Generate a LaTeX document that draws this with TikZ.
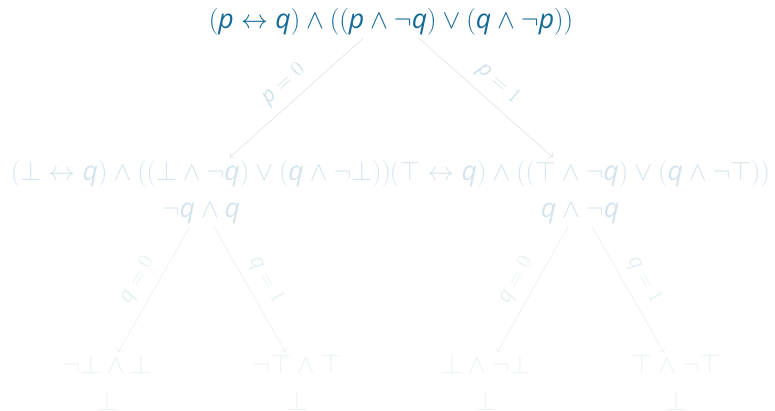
\documentclass[tikz,border=0pt]{standalone}
\usepackage{fix-cm}
\usepackage{fontspec}
\setmainfont{Open Sans}
\usetikzlibrary{arrows.meta,positioning}
\definecolor{tema}{RGB}{22,106,152}
\newcommand{\vp}{\mathit{p}}
\newcommand{\vq}{\mathit{q}}
\tikzset{
    formula/.style={
        text=tema,                          % color del tema
        font=\fontsize{19}{26}\selectfont,  % letra grande
        align=center,                       % varias lineas centradas
        inner sep=2pt
    },
    paso/.style={
        formula,
        opacity=.18                         % segundo nivel casi transparente
    },
    hoja/.style={
        formula,
        opacity=.09                         % hojas aun mas claras
    },
    rama/.style={
        ->,
        draw=black!#1                       % linea gris muy suave
    },
    etiqueta/.style={
        text=tema,
        opacity=#1,
        font=\fontsize{15}{17}\selectfont,
        sloped,
        above=3pt
    }
}
\begin{document}
\begin{tikzpicture}[x=0.025cm,y=-0.025cm]
			\useasboundingbox (0,0) rectangle (775,411);
			\node[formula] (raiz) at (391,22) {$(\vp \leftrightarrow \vq) \land ((\vp \land \neg \vq) \lor (\vq \land \neg \vp))$};
			\node[paso] (izq) at (201,192) {$(\bot \leftrightarrow \vq) \land ((\bot \land \neg \vq) \lor (\vq \land \neg \bot))$\\$\neg \vq \land \vq$};
			\node[paso] (der) at (580,192) {$(\top \leftrightarrow \vq) \land ((\top \land \neg \vq) \lor (\vq \land \neg \top))$\\$\vq \land \neg \vq$};
			\node[hoja] (h1) at (107,383) {$\neg \bot \land \bot$\\$\bot$};
			\node[hoja] (h2) at (297,383) {$\neg \top \land \top$\\$\bot$};
			\node[hoja] (h3) at (486,383) {$\bot \land \neg \bot$\\$\bot$};
			\node[hoja] (h4) at (676,383) {$\top \land \neg \top$\\$\bot$};
			\draw[rama=12] ([xshift=-0.7cm]raiz.south) -- ([xshift=0.72cm]izq.north) node[etiqueta=.2, midway] {$\vp = 0$};
			\draw[rama=12] ([xshift=0.7cm]raiz.south) -- ([xshift=-0.68cm]der.north) node[etiqueta=.2, midway] {$\vp = 1$};
			\draw[rama=7] ([xshift=-0.28cm]izq.south) -- ([xshift=0.28cm]h1.north) node[etiqueta=.1, midway] {$\vq = 0$};
			\draw[rama=7] ([xshift=0.32cm]izq.south) -- ([xshift=-0.28cm]h2.north) node[etiqueta=.1, midway] {$\vq = 1$};
			\draw[rama=7] ([xshift=-0.3cm]der.south) -- ([xshift=0.28cm]h3.north) node[etiqueta=.1, midway] {$\vq = 0$};
			\draw[rama=7] ([xshift=0.3cm]der.south) -- ([xshift=-0.3cm]h4.north) node[etiqueta=.1, midway] {$\vq = 1$};
		\end{tikzpicture}
\end{document}
